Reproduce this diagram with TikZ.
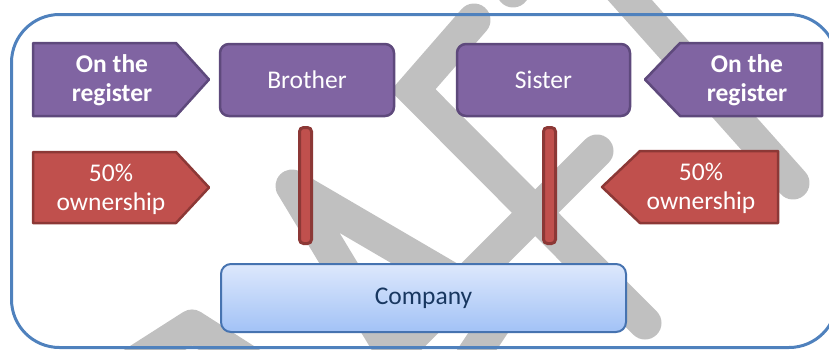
\documentclass[tikz,border=0pt]{standalone}
\usepackage{fontspec}
\setmainfont{Carlito}
\definecolor{wm}{RGB}{192,192,192}
\definecolor{frameblue}{RGB}{79,129,189}
\definecolor{purfill}{RGB}{128,100,162}
\definecolor{purline}{RGB}{94,73,124}
\definecolor{redfill}{RGB}{192,80,77}
\definecolor{redline}{RGB}{140,56,54}
\definecolor{cotop}{RGB}{221,232,252}
\definecolor{cobot}{RGB}{162,194,246}
\definecolor{coline}{RGB}{70,115,176}
\definecolor{cotext}{RGB}{24,55,96}
\begin{document}
\begin{tikzpicture}[x=1pt,y=-1pt,
  wmband/.style={draw=wm,line width=33pt},
  purshape/.style={fill=purfill,draw=purline,line width=2.5pt,line join=round},
  redshape/.style={fill=redfill,draw=redline,line width=2.5pt,line join=round},
  purbox/.style={purshape,rounded corners=9pt,inner sep=0pt,text=white,
    font=\fontsize{25.5}{30}\selectfont},
  redbar/.style={fill=redfill,draw=redline,line width=3pt,rounded corners=4pt,
    minimum width=12pt,minimum height=116pt,inner sep=0pt},
  cobox/.style={top color=cotop,bottom color=cobot,draw=coline,line width=2pt,
    rounded corners=10pt,inner sep=0pt,text=cotext,font=\fontsize{25.5}{30}\selectfont},
  lbl/.style={text=white,font=\fontsize{25.5}{30}\selectfont,anchor=base,inner sep=0pt},
  blbl/.style={text=white,font=\fontsize{25.5}{30}\selectfont\bfseries,anchor=base,inner sep=0pt},
]
\useasboundingbox (0,0) rectangle (829,349);
\begin{scope}
\clip (0,0) rectangle (829,349);
% watermark
\draw[wmband,line cap=round] (612,-20) -- (793,183);
\draw[wmband,line cap=round,line join=miter] (474,20) -- (413,90) -- (645,323);
\draw[wmband,line cap=round] (597,151) -- (370,378);
\draw[wmband,line cap=round,line join=round] (470,290) -- (292,186) -- (397,360);
\draw[wmband,line join=round] (120,372) -- (192,326) -- (264,372);
\draw[wmband] (510,300) -- (462,372);
\draw[wmband,line cap=round] (540,-45) -- (513,-9);
% frame
\draw[frameblue,line width=3pt,rounded corners=48pt] (11.5,14.5) rectangle (837,347.5);
\end{scope}
% arrows on the register
\path[purshape] (33,43) -- (176,43) -- (209,79.5) -- (176,116) -- (33,116) -- cycle;
\path[purshape] (822,43) -- (680,43) -- (645,79.5) -- (680,116) -- (822,116) -- cycle;
\node[blbl] (lreg1) at (112,72) {On the};
\node[blbl] (lreg2) at (112,101) {register};
\node[blbl] (rreg1) at (747,72) {On the};
\node[blbl] (rreg2) at (747,101) {register};
% ownership arrows
\path[redshape] (33,152) -- (176,152) -- (209,187.5) -- (176,223) -- (33,223) -- cycle;
\path[redshape] (778,151) -- (640,151) -- (602,187) -- (640,223) -- (778,223) -- cycle;
\node[lbl] (lown1) at (111,181) {50\%};
\node[lbl] (lown2) at (111,210) {ownership};
\node[lbl] (rown1) at (701,180) {50\%};
\node[lbl] (rown2) at (701,209) {ownership};
% persons
\node[purbox,minimum width=174pt,minimum height=72pt] (brother) at (307,80) {Brother};
\node[purbox,minimum width=173pt,minimum height=72pt] (sister) at (543.5,80) {Sister};
% bars
\node[redbar] (lbar) at (305.5,185.5) {};
\node[redbar] (rbar) at (549.5,185.5) {};
% company
\node[cobox,minimum width=405pt,minimum height=68pt] (company) at (423.5,298) {Company};
\end{tikzpicture}
\end{document}
